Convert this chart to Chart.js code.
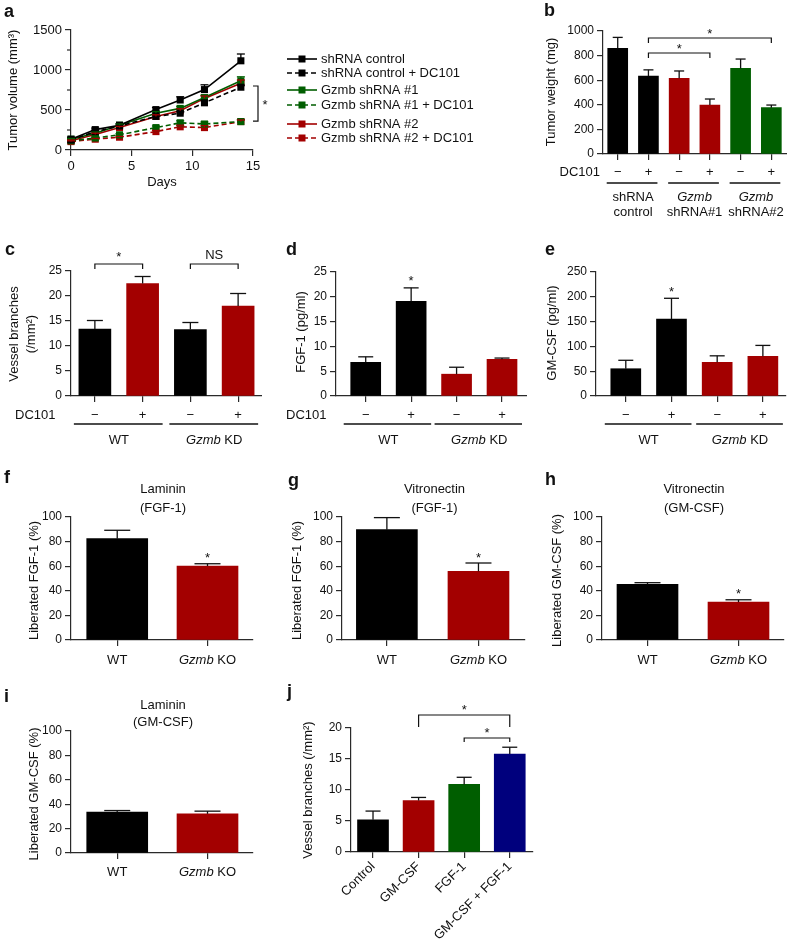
<!DOCTYPE html>
<html>
<head>
<meta charset="utf-8">
<script src="https://cdn.jsdelivr.net/npm/chart.js@4.4.0/dist/chart.umd.min.js"></script>
<style>
  body { margin: 0; background: #fff; width: 787px; height: 945px; position: relative; overflow: hidden; }
  canvas { position: absolute; }
</style>
</head>
<body>
<script>
// ---- datos panel a (volumen tumoral por dia) ----
const dias = [0, 2, 4, 7, 9, 11, 14];
const volCtrl = [135, 255, 310, 505, 625, 755, 1115];
const volCtrlErr = [15, 20, 20, 25, 40, 60, 85];
const volCtrlDc = [125, 230, 300, 420, 460, 590, 785];
const volCtrlDcErr = [10, 15, 15, 20, 20, 25, 25];
const volSh1 = [135, 210, 310, 460, 520, 655, 865];
const volSh1Err = [10, 15, 15, 20, 25, 30, 50];
const volSh1Dc = [115, 150, 190, 280, 340, 325, 355];
const volSh1DcErr = [10, 10, 15, 20, 25, 25, 25];
const volSh2 = [115, 195, 280, 420, 490, 645, 835];
const volSh2Err = [10, 15, 15, 20, 25, 30, 40];
const volSh2Dc = [105, 135, 160, 230, 290, 280, 355];
const volSh2DcErr = [10, 10, 10, 15, 20, 25, 20];
const leyendaA = ["shRNA control", "shRNA control + DC101", "Gzmb shRNA #1", "Gzmb shRNA #1 + DC101", "Gzmb shRNA #2", "Gzmb shRNA #2 + DC101"];

// ---- panel b ----
const pesoB = [860, 634, 615, 398, 696, 377];
const pesoBErr = [88, 50, 60, 49, 76, 21];
const signosB = ["−", "+", "−", "+", "−", "+"];

// ---- paneles c, d, e ----
const signosCDE = ["−", "+", "−", "+"];
const ramasC = [13.4, 22.5, 13.3, 18.0];
const ramasCErr = [1.7, 1.4, 1.4, 2.5];
const fgfD = [6.8, 19.1, 4.4, 7.4];
const fgfDErr = [1.1, 2.7, 1.4, 0.25];
const gmcsfE = [55, 155, 68, 80];
const gmcsfEErr = [17, 42, 13, 22];

// ---- paneles f, g, h, i ----
const lamFgfF = [82.4, 60.1];
const lamFgfFErr = [6.8, 1.9];
const vitFgfG = [89.7, 55.8];
const vitFgfGErr = [9.8, 6.8];
const vitGmH = [45.2, 30.8];
const vitGmHErr = [1.4, 1.9];
const lamGmI = [33.5, 32.1];
const lamGmIErr = [1.3, 2.2];

// ---- panel j ----
const etiquetasJ = ["Control", "GM-CSF", "FGF-1", "GM-CSF + FGF-1"];
const ramasJ = [5.2, 8.3, 10.9, 15.8];
const ramasJErr = [1.4, 0.5, 1.15, 1.1];

const NEGRO = "#000000";
const ROJO = "#a30000";
const VERDE = "#005e00";
const AZUL = "#00007d";
const EJE = "#2a2a2a";
const FUENTE = '"Liberation Sans", Arial, Helvetica, sans-serif';

Chart.defaults.font.family = FUENTE;
Chart.defaults.color = "#111";

// crea un canvas en la posicion de la pagina
function lienzo(L, T, W, H) {
  const c = document.createElement("canvas");
  c.width = W;
  c.height = H;
  c.style.left = L + "px";
  c.style.top = T + "px";
  c.style.width = W + "px";
  c.style.height = H + "px";
  document.body.appendChild(c);
  return c;
}

// texto con partes en cursiva
function texto(ctx, partes, x, y, o = {}) {
  const size = o.size || 13;
  const bold = o.bold ? "bold " : "";
  const align = o.align || "center";
  if (typeof partes === "string") partes = [[partes, false]];
  ctx.save();
  ctx.translate(x, y);
  if (o.rot) ctx.rotate(o.rot);
  ctx.fillStyle = "#111";
  ctx.textBaseline = o.base || "middle";
  ctx.textAlign = "left";
  const f = (it) => `${it ? "italic " : ""}${bold}${size}px ${FUENTE}`;
  let w = 0;
  partes.forEach(([s, it]) => { ctx.font = f(it); w += ctx.measureText(s).width; });
  let cx = align === "center" ? -w / 2 : align === "right" ? -w : 0;
  partes.forEach(([s, it]) => {
    ctx.font = f(it);
    ctx.fillText(s, cx, 0);
    cx += ctx.measureText(s).width;
  });
  ctx.restore();
}

const estrella = (ctx, x, yc) => texto(ctx, "*", x, yc + 3, { size: 13 });

function linea(ctx, pts, color = "#111", ancho = 1.2) {
  ctx.save();
  ctx.strokeStyle = color;
  ctx.lineWidth = ancho;
  ctx.beginPath();
  pts.forEach(([x, y], i) => (i ? ctx.lineTo(x, y) : ctx.moveTo(x, y)));
  ctx.stroke();
  ctx.restore();
}

const corchete = (ctx, x1, x2, y, d1, d2) => linea(ctx, [[x1, y + d1], [x1, y], [x2, y], [x2, y + d2]]);

// barras de error hacia arriba
function barrasError(ctx, chart, fx, fy, cap) {
  chart.data.datasets.forEach((ds) => {
    if (!ds.err) return;
    const col = ds.errColor || "#111";
    ds.data.forEach((p, i) => {
      const x = fx(p.x);
      const y0 = fy(p.y);
      const y1 = fy(p.y + ds.err[i]);
      linea(ctx, [[x, y0], [x, y1]], col, 1.3);
      linea(ctx, [[x - cap / 2, y1], [x + cap / 2, y1]], col, 1.3);
    });
  });
}

const ejeGrid = { drawOnChartArea: false, offset: false, tickLength: 6, color: EJE, lineWidth: 1.2 };
const ejeBorde = { color: EJE, width: 1.2 };
const sinComas = (v) => String(v);

function panelBarras(cfg) {
  const [L, T, W, H] = cfg.caja;
  const [cl, ct, cr, cb] = cfg.area;
  const idx = cfg.valores.map((_, i) => i);
  return new Chart(lienzo(L, T, W, H), {
    type: "bar",
    data: {
      datasets: [{
        data: cfg.valores.map((v, i) => ({ x: i, y: v })),
        err: cfg.errores,
        backgroundColor: cfg.colores,
        barThickness: cfg.ancho,
      }],
    },
    options: {
      responsive: false,
      animation: false,
      events: [],
      layout: { padding: { left: 0, top: ct - T, right: L + W - cr, bottom: 0 } },
      plugins: { legend: { display: false }, tooltip: { enabled: false } },
      scales: {
        x: {
          type: "linear",
          offset: false,
          bounds: "data",
          min: cfg.xmin,
          max: cfg.xmax,
          afterBuildTicks: (s) => { s.ticks = idx.map((v) => ({ value: v })); },
          afterFit: (s) => { s.height = T + H - cb; },
          ticks: cfg.rotadas
            ? { autoSkip: false, minRotation: 45, maxRotation: 45, padding: 1, font: { size: 13 }, color: "#111", callback: (v) => cfg.rotadas[v] }
            : { display: false },
          grid: ejeGrid,
          border: ejeBorde,
        },
        y: {
          min: 0,
          max: cfg.ymax,
          ticks: { stepSize: cfg.paso, padding: 3, font: { size: 12 }, color: "#111", callback: sinComas },
          afterFit: (s) => { s.width = cl - L; },
          grid: ejeGrid,
          border: ejeBorde,
        },
      },
    },
    plugins: [{
      id: "extras",
      afterDatasetsDraw(chart) {
        const ctx = chart.ctx;
        ctx.save();
        ctx.translate(-L, -T);
        const fx = (i) => chart.scales.x.getPixelForValue(i) + L;
        const fy = (v) => chart.scales.y.getPixelForValue(v) + T;
        barrasError(ctx, chart, fx, fy, cfg.cap);
        const [l, lx, ly] = cfg.letra;
        texto(ctx, l, lx, ly, { size: 18, bold: true, align: "left", base: "alphabetic" });
        cfg.extras(ctx, fx, fy);
        ctx.restore();
      },
    }],
  });
}

// fila DC101 con subrayado de grupos
function filaDC101(ctx, fx, signos, y, yLinea, ext1, ext2) {
  signos.forEach((s, i) => texto(ctx, s, fx(i), y, { size: 13 }));
  for (let i = 0; i < signos.length; i += 2) {
    linea(ctx, [[fx(i) - ext1, yLinea], [fx(i + 1) + ext2, yLinea]], "#111", 1.3);
  }
}

// ---------- panel a ----------
(() => {
  const L = 0, T = 0, W = 530, H = 200;
  const series = [
    [volCtrl, volCtrlErr, NEGRO, false],
    [volCtrlDc, volCtrlDcErr, NEGRO, true],
    [volSh1, volSh1Err, VERDE, false],
    [volSh1Dc, volSh1DcErr, VERDE, true],
    [volSh2, volSh2Err, ROJO, false],
    [volSh2Dc, volSh2DcErr, ROJO, true],
  ];
  const filasLeyenda = [59, 73, 90, 105, 124, 138];
  new Chart(lienzo(L, T, W, H), {
    type: "line",
    data: {
      datasets: series.map(([vals, err, col, dc], k) => ({
        label: leyendaA[k],
        data: vals.map((v, i) => ({ x: dias[i], y: v })),
        err: err,
        errColor: col,
        borderColor: col,
        backgroundColor: col,
        borderWidth: 1.6,
        borderDash: dc ? [5, 3] : [],
        pointStyle: "rect",
        pointRadius: 5,
        pointBorderWidth: 0,
        pointBackgroundColor: col,
        tension: 0,
        clip: false,
      })),
    },
    options: {
      responsive: false,
      animation: false,
      events: [],
      layout: { padding: { left: 0, top: 30, right: W - 253, bottom: 0 } },
      plugins: { legend: { display: false }, tooltip: { enabled: false } },
      scales: {
        x: {
          type: "linear",
          min: 0,
          max: 15,
          ticks: { stepSize: 5, padding: 3, font: { size: 13 }, color: "#111", callback: sinComas },
          afterFit: (s) => { s.height = H - 150; },
          grid: ejeGrid,
          border: ejeBorde,
        },
        y: {
          min: 0,
          max: 1500,
          ticks: { stepSize: 500, padding: 3, font: { size: 13 }, color: "#111", callback: sinComas },
          afterFit: (s) => { s.width = 71; },
          grid: ejeGrid,
          border: ejeBorde,
        },
      },
    },
    plugins: [{
      id: "extrasA",
      afterDatasetsDraw(chart) {
        const ctx = chart.ctx;
        const fx = (v) => chart.scales.x.getPixelForValue(v);
        const fy = (v) => chart.scales.y.getPixelForValue(v);
        barrasError(ctx, chart, fx, fy, 8);
        // marcas menores del eje y
        for (let v = 250; v < 1500; v += 500) linea(ctx, [[fx(0) - 4, fy(v)], [fx(0), fy(v)]], EJE, 1.2);
        texto(ctx, "a", 4, 17, { size: 18, bold: true, align: "left", base: "alphabetic" });
        texto(ctx, "Tumor volume (mm³)", 13, 90, { size: 13, rot: -Math.PI / 2 });
        texto(ctx, "Days", (fx(0) + fx(15)) / 2, 182, { size: 13 });
        // corchete de significancia
        const xb = fx(15) + 5;
        linea(ctx, [[xb - 5, fy(800)], [xb, fy(800)], [xb, fy(362)], [xb - 5, fy(362)]]);
        estrella(ctx, xb + 7, fy(600));
        // leyenda
        chart.data.datasets.forEach((ds, i) => {
          const y = filasLeyenda[i];
          ctx.save();
          ctx.strokeStyle = ds.borderColor;
          ctx.lineWidth = 1.6;
          ctx.setLineDash(ds.borderDash);
          ctx.beginPath();
          ctx.moveTo(287, y);
          ctx.lineTo(317, y);
          ctx.stroke();
          ctx.fillStyle = ds.borderColor;
          ctx.fillRect(298.5, y - 3.5, 7, 7);
          ctx.restore();
          texto(ctx, ds.label, 321, y, { size: 13, align: "left" });
        });
      },
    }],
  });
})();

// ---------- panel b ----------
panelBarras({
  caja: [520, 0, 267, 225],
  area: [603, 31, 787, 154],
  xmin: -0.479, xmax: 5.51,
  ymax: 1000, paso: 200,
  valores: pesoB, errores: pesoBErr,
  colores: [NEGRO, NEGRO, ROJO, ROJO, VERDE, VERDE],
  ancho: 20, cap: 10,
  letra: ["b", 544, 16],
  extras: (ctx, fx) => {
    texto(ctx, "Tumor weight (mg)", 551, 92, { rot: -Math.PI / 2 });
    corchete(ctx, fx(1), fx(3), 53, 5, 5);
    estrella(ctx, (fx(1) + fx(3)) / 2, 46);
    corchete(ctx, fx(1), fx(5), 38, 5, 5);
    estrella(ctx, (fx(1) + fx(5)) / 2, 31);
    texto(ctx, "DC101", 600, 172, { align: "right" });
    filaDC101(ctx, fx, signosB, 172, 183, 11, 9);
    const grupos = [
      [[["shRNA", false]], [["control", false]]],
      [[["Gzmb", true]], [["shRNA#1", false]]],
      [[["Gzmb", true]], [["shRNA#2", false]]],
    ];
    grupos.forEach(([l1, l2], g) => {
      const xm = (fx(2 * g) + fx(2 * g + 1)) / 2;
      texto(ctx, l1, xm, 197);
      texto(ctx, l2, xm, 212);
    });
  },
});

// ---------- panel c ----------
panelBarras({
  caja: [0, 235, 262, 215],
  area: [71, 271, 262, 396],
  xmin: -0.5, xmax: 3.5,
  ymax: 25, paso: 5,
  valores: ramasC, errores: ramasCErr,
  colores: [NEGRO, ROJO, NEGRO, ROJO],
  ancho: 32, cap: 16,
  letra: ["c", 5, 255],
  extras: (ctx, fx) => {
    texto(ctx, "Vessel branches", 14, 334, { rot: -Math.PI / 2 });
    texto(ctx, "(/mm²)", 31, 334, { rot: -Math.PI / 2 });
    corchete(ctx, fx(0), fx(1), 264, 5, 5);
    estrella(ctx, (fx(0) + fx(1)) / 2, 254);
    corchete(ctx, fx(2), fx(3), 264, 5, 5);
    texto(ctx, "NS", (fx(2) + fx(3)) / 2, 255);
    texto(ctx, "DC101", 15, 415, { align: "left" });
    filaDC101(ctx, fx, signosCDE, 415, 424, 21, 20);
    texto(ctx, "WT", (fx(0) + fx(1)) / 2, 440);
    texto(ctx, [["Gzmb", true], [" KD", false]], (fx(2) + fx(3)) / 2, 440);
  },
});

// ---------- panel d ----------
panelBarras({
  caja: [260, 235, 267, 215],
  area: [336, 272, 527, 396],
  xmin: -0.654, xmax: 3.55,
  ymax: 25, paso: 5,
  valores: fgfD, errores: fgfDErr,
  colores: [NEGRO, NEGRO, ROJO, ROJO],
  ancho: 30, cap: 15,
  letra: ["d", 286, 255],
  extras: (ctx, fx, fy) => {
    texto(ctx, "FGF-1 (pg/ml)", 301, 332, { rot: -Math.PI / 2 });
    estrella(ctx, fx(1), fy(fgfD[1] + fgfDErr[1]) - 9);
    texto(ctx, "DC101", 286, 415, { align: "left" });
    filaDC101(ctx, fx, signosCDE, 415, 424, 22, 20);
    texto(ctx, "WT", (fx(0) + fx(1)) / 2, 440);
    texto(ctx, [["Gzmb", true], [" KD", false]], (fx(2) + fx(3)) / 2, 440);
  },
});

// ---------- panel e ----------
panelBarras({
  caja: [520, 235, 267, 215],
  area: [596, 272, 786, 396],
  xmin: -0.652, xmax: 3.506,
  ymax: 250, paso: 50,
  valores: gmcsfE, errores: gmcsfEErr,
  colores: [NEGRO, NEGRO, ROJO, ROJO],
  ancho: 30, cap: 15,
  letra: ["e", 545, 255],
  extras: (ctx, fx, fy) => {
    texto(ctx, "GM-CSF (pg/ml)", 552, 333, { rot: -Math.PI / 2 });
    estrella(ctx, fx(1), fy(gmcsfE[1] + gmcsfEErr[1]) - 9);
    filaDC101(ctx, fx, signosCDE, 415, 424, 21, 20);
    texto(ctx, "WT", (fx(0) + fx(1)) / 2, 440);
    texto(ctx, [["Gzmb", true], [" KD", false]], (fx(2) + fx(3)) / 2, 440);
  },
});

// ---------- paneles f, g, h, i ----------
function panelLiberado(caja, area, xmin, xmax, vals, errs, titulo, ejeTitulo, xTitulo, letra, estrellaKO, yEtiq, yTit) {
  panelBarras({
    caja, area, xmin, xmax,
    ymax: 100, paso: 20,
    valores: vals, errores: errs,
    colores: [NEGRO, ROJO],
    ancho: 61, cap: 26,
    letra,
    extras: (ctx, fx, fy) => {
      const xc = (area[0] + area[2]) / 2 + 1;
      texto(ctx, titulo[0], xc, yTit[0]);
      texto(ctx, titulo[1], xc, yTit[1]);
      texto(ctx, ejeTitulo, xTitulo, (area[1] + area[3]) / 2 + 2, { rot: -Math.PI / 2 });
      if (estrellaKO) estrella(ctx, fx(1), fy(vals[1] + errs[1]) - 8);
      texto(ctx, "WT", fx(0), yEtiq);
      texto(ctx, [["Gzmb", true], [" KO", false]], fx(1), yEtiq);
    },
  });
}

panelLiberado([0, 470, 262, 205], [71, 517, 253, 640], -0.512, 1.504, lamFgfF, lamFgfFErr,
  ["Laminin", "(FGF-1)"], "Liberated FGF-1 (%)", 34, ["f", 4, 483], true, 660, [489, 508]);
panelLiberado([260, 470, 267, 205], [342, 517, 525, 640], -0.49, 1.508, vitFgfG, vitFgfGErr,
  ["Vitronectin", "(FGF-1)"], "Liberated FGF-1 (%)", 297, ["g", 288, 486], true, 660, [489, 508]);
panelLiberado([520, 470, 267, 205], [602, 517, 784, 640], -0.5, 1.5, vitGmH, vitGmHErr,
  ["Vitronectin", "(GM-CSF)"], "Liberated GM-CSF (%)", 557, ["h", 545, 485], true, 660, [489, 508]);
panelLiberado([0, 685, 262, 205], [71, 731, 253, 853], -0.512, 1.504, lamGmI, lamGmIErr,
  ["Laminin", "(GM-CSF)"], "Liberated GM-CSF (%)", 34, ["i", 4, 702], false, 872, [705, 722]);

// ---------- panel j ----------
panelBarras({
  caja: [260, 680, 527, 265],
  area: [351, 728, 533, 852],
  xmin: -0.483, xmax: 3.51,
  ymax: 20, paso: 5,
  valores: ramasJ, errores: ramasJErr,
  colores: [NEGRO, ROJO, VERDE, AZUL],
  ancho: 31, cap: 15,
  rotadas: etiquetasJ,
  letra: ["j", 287, 697],
  extras: (ctx, fx) => {
    texto(ctx, "Vessel branches (/mm²)", 308, 790, { rot: -Math.PI / 2 });
    corchete(ctx, fx(1), fx(3), 715, 12, 12);
    estrella(ctx, (fx(1) + fx(3)) / 2, 707);
    corchete(ctx, fx(2), fx(3), 738, 4, 4);
    estrella(ctx, (fx(2) + fx(3)) / 2, 730);
  },
});
</script>
</body>
</html>
